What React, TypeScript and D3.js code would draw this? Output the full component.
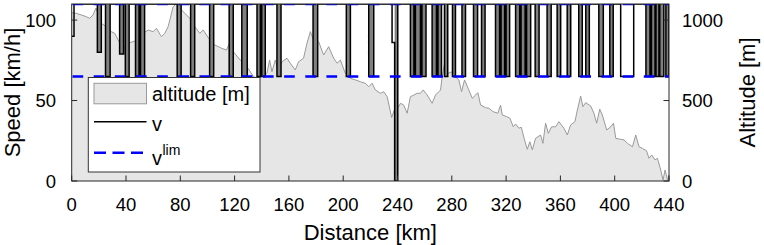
import React from "react";
import * as d3 from "d3";

// ---- data ----
const distanceTicks = [0, 40, 80, 120, 160, 200, 240, 280, 320, 360, 400, 440];
const speedTicks = [0, 50, 100];
const altitudeTicks = [0, 500, 1000];

// altitude profile: [km, m]
const altitudeProfile: [number, number][] = [
  [0, 1046], [3.4, 1042], [7.1, 1032], [10.8, 1021], [13.3, 1011], [15.7, 1032], [17.9, 1075],
  [21.8, 980], [25.5, 959], [29.2, 928], [31.7, 918], [34.2, 876], [36.6, 845], [39.1, 835],
  [41.5, 856], [45.2, 866], [48.9, 876], [52.6, 918], [56.3, 938], [60.0, 928], [62.4, 949],
  [66.1, 897], [68.6, 918], [71.0, 959], [72.3, 1001], [74.7, 1083], [76.9, 1100], [79.7, 1073],
  [83.4, 1042], [87.0, 1011], [90.7, 959], [94.4, 918], [96.9, 938], [99.3, 907], [101.8, 876],
  [105.5, 845], [110.4, 825], [114.0, 814], [117.3, 876], [119.0, 804], [124.1, 752], [129.1, 710],
  [134.0, 648], [137.6, 638], [141.3, 653], [143.8, 669], [145.8, 752], [147.5, 679], [150.0, 752],
  [152.0, 690], [154.9, 741], [158.6, 763], [161.0, 732], [164.7, 690], [167.1, 741], [170.8, 763],
  [173.3, 856], [175.8, 928], [178.2, 876], [181.9, 866], [185.6, 783], [189.3, 835], [193.0, 763],
  [195.5, 732], [197.9, 752], [201.6, 669], [205.3, 638], [209.0, 628], [212.7, 617], [216.3, 607],
  [218.8, 586], [221.3, 607], [223.7, 566], [227.4, 545], [229.8, 555], [232.4, 524], [235.7, 395],
  [238.5, 462], [240.9, 462], [242.2, 483], [244.6, 472], [247.1, 421], [249.5, 524], [252.0, 534],
  [254.5, 545], [256.9, 545], [258.9, 566], [261.9, 534], [265.5, 483], [268.0, 534], [270.4, 555],
  [271.7, 566], [272.9, 648], [274.6, 727], [277.1, 669], [280.3, 679], [282.7, 648], [285.2, 628],
  [287.2, 555], [289.4, 628], [292.5, 566], [295.1, 514], [297.5, 534], [299.2, 549], [301.2, 472],
  [304.9, 456], [307.3, 452], [310.5, 431], [313.9, 421], [315.9, 472], [317.2, 410], [320.4, 400],
  [322.8, 390], [325.3, 337], [327.0, 354], [329.4, 328], [331.2, 334], [333.6, 255], [335.6, 197],
  [337.5, 244], [339.3, 193], [341.7, 265], [345.4, 286], [347.1, 234], [349.1, 359], [351.1, 296],
  [353.5, 337], [356.5, 337], [358.9, 369], [362.6, 328], [365.1, 286], [367.5, 348], [370.7, 369],
  [372.5, 441], [374.9, 528], [376.6, 462], [378.6, 487], [382.3, 466], [384.7, 421], [386.7, 359],
  [389.0, 446], [390.9, 410], [394.1, 317], [397.1, 337], [399.1, 359], [400.8, 265], [404.4, 259],
  [406.9, 255], [409.4, 234], [413.1, 213], [415.5, 286], [417.9, 213], [420.4, 203], [423.4, 188],
  [425.3, 141], [427.3, 162], [429.7, 131], [431.5, 141], [433.9, 68], [435.6, 6], [437.1, 68],
  [438.9, 6], [440, 37],
];

// speed v: 110 km/h except in these intervals [fromKm, toKm, speed, rapidSwitching]
const speedDips: [number, number, number, boolean][] = [
  [0, 1.7, 90, false],
  [18.9, 21.8, 80, true], [24.9, 28.3, 65, true], [35.3, 38.2, 79, true], [39.5, 42.3, 65, true],
  [47.0, 49.6, 65, true], [50.7, 53.7, 65, true], [77.7, 80.6, 65, true], [87.6, 90.6, 65, true],
  [101.6, 104.6, 65, true], [116.0, 119.0, 65, true], [125.3, 129.3, 65, true],
  [136.5, 139.0, 65, true], [140.0, 142.6, 65, true], [151.2, 154.2, 65, true],
  [177.8, 181.2, 65, true], [202.3, 205.3, 65, true], [218.8, 222.5, 65, true],
  [236.0, 237.9, 86, false], [237.9, 240.2, 0, true],
  [249.5, 252.1, 65, true], [253.2, 256.9, 65, true], [258.0, 261.0, 65, true],
  [265.5, 268.7, 65, true], [269.8, 272.4, 65, true], [274.6, 277.0, 65, true],
  [280.5, 282.7, 65, true], [287.5, 290.1, 65, true], [296.0, 299.0, 65, true],
  [301.9, 304.5, 65, true], [312.2, 315.2, 65, true], [316.3, 318.9, 65, true],
  [320.0, 322.6, 65, true], [327.0, 330.0, 65, true], [331.0, 334.0, 65, true],
  [335.1, 338.1, 65, true], [341.4, 344.3, 65, true], [350.2, 353.2, 65, true],
  [357.6, 360.2, 65, true], [365.0, 367.6, 65, true], [373.5, 376.1, 65, true],
  [378.7, 381.3, 65, true], [388.3, 391.6, 65, true], [396.4, 398.9, 65, true],
  [404.4, 414.0, 65, false], [423.0, 426.0, 65, true], [427.1, 429.7, 65, true],
  [430.4, 432.6, 65, true], [433.2, 436.2, 65, true], [437.7, 440, 65, true],
];

const vMax = 110;
const vLimLevels = [110, 65];

// ---- layout ----
const W = 764;
const H = 245;
const left = 71.7;
const right = 669;
const top = 4;
const bottom = 181;
const FONT = "'Liberation Sans', Arial, Helvetica, sans-serif";

export default function App() {
  const x = d3.scaleLinear().domain([0, 440]).range([left, right]);
  const yL = d3.scaleLinear().domain([0, 110]).range([bottom, top]);
  const yR = d3.scaleLinear().domain([0, 1100]).range([bottom, top]);

  const area = d3
    .area<[number, number]>()
    .x((d) => x(d[0]))
    .y0(yR(0))
    .y1((d) => yR(d[1]));
  const altLine = d3
    .line<[number, number]>()
    .x((d) => x(d[0]))
    .y((d) => yR(d[1]));

  const pts: [number, number][] = [];
  if (speedDips[0][0] > 0) pts.push([0, vMax]);
  speedDips.forEach((p, i) => {
    pts.push([p[0], p[2]]);
    const next = speedDips[i + 1];
    if (!next || next[0] > p[1]) pts.push([p[1], vMax]);
  });
  pts.push([440, vMax]);
  const vLine = d3
    .line<[number, number]>()
    .x((d) => x(d[0]))
    .y((d) => yL(d[1]))
    .curve(d3.curveStepAfter);

  const axisColor = "#262626";
  const tickFont = 18.5;

  return (
    <svg
      width={W}
      height={H}
      style={{ position: "absolute", left: 0, top: 0, background: "#fff" }}
      fontFamily={FONT}
    >
      <defs>
        <clipPath id="plot">
          <rect x={left} y={top} width={right - left} height={bottom - top} />
        </clipPath>
      </defs>
      <rect x={0} y={0} width={W} height={H} fill="#fff" />
      <g clipPath="url(#plot)">
        <path d={area(altitudeProfile) || ""} fill="#e6e6e6" stroke="none" />
        <path d={altLine(altitudeProfile) || ""} fill="none" stroke="#999" strokeWidth={1} />
        {speedDips
          .filter((p) => p[3])
          .map((p, i) => (
            <rect
              key={i}
              x={x(p[0])}
              y={yL(vMax)}
              width={x(p[1]) - x(p[0])}
              height={yL(p[2]) - yL(vMax)}
              fill="#808080"
            />
          ))}
        <path d={vLine(pts) || ""} fill="none" stroke="#000" strokeWidth={1.5} />
        {vLimLevels.map((v) => (
          <line
            key={v}
            x1={left}
            x2={right}
            y1={yL(v)}
            y2={yL(v)}
            stroke="#0000ff"
            strokeWidth={2.5}
            strokeDasharray="10.7 10.46"
            strokeDashoffset={-0.8}
          />
        ))}
      </g>
      {/* axes box */}
      <rect x={left} y={top} width={right - left} height={bottom - top} fill="none" stroke={axisColor} strokeWidth={1} />
      {distanceTicks.map((t) => (
        <g key={t}>
          <line x1={x(t)} x2={x(t)} y1={bottom} y2={bottom - 5.5} stroke={axisColor} />
          <text x={x(t)} y={211} textAnchor="middle" fontSize={tickFont} fill="#000">
            {t}
          </text>
        </g>
      ))}
      {speedTicks.map((t) => (
        <g key={t}>
          <line x1={left} x2={left + 5.5} y1={yL(t)} y2={yL(t)} stroke={axisColor} />
          <text x={56} y={yL(t) + 6.5} textAnchor="end" fontSize={tickFont} fill="#000">
            {t}
          </text>
        </g>
      ))}
      {altitudeTicks.map((t) => (
        <g key={t}>
          <line x1={right} x2={right - 5.5} y1={yR(t)} y2={yR(t)} stroke={axisColor} />
          <text x={682} y={yR(t) + 6.5} textAnchor="start" fontSize={tickFont} fill="#000">
            {t}
          </text>
        </g>
      ))}
      <text x={(left + right) / 2} y={240} textAnchor="middle" fontSize={22} fill="#000">
        Distance [km]
      </text>
      <text transform={`translate(20, ${(top + bottom) / 2}) rotate(-90)`} textAnchor="middle" fontSize={22} fill="#000">
        Speed [km/h]
      </text>
      <text transform={`translate(755, ${(top + bottom) / 2}) rotate(-90)`} textAnchor="middle" fontSize={22} fill="#000">
        Altitude [m]
      </text>
      {/* legend */}
      <g>
        <rect x={88.3} y={77.5} width={171.7} height={94.5} fill="#fff" stroke="#333" strokeWidth={1} />
        <rect x={94} y={83.3} width={52.5} height={20.5} fill="#e6e6e6" stroke="#999" strokeWidth={1} />
        <text x={152} y={101} fontSize={20} fill="#000">altitude [m]</text>
        <line x1={94} x2={146.5} y1={121.7} y2={121.7} stroke="#000" strokeWidth={1.5} />
        <text x={152} y={130.5} fontSize={20} fill="#000">v</text>
        <line x1={94} x2={146.5} y1={152.7} y2={152.7} stroke="#0000ff" strokeWidth={2.5} strokeDasharray="12 6.5" />
        <text x={152} y={164.5} fontSize={20} fill="#000">
          v
          <tspan dx={0.5} dy={-10} fontSize={14}>lim</tspan>
        </text>
      </g>
    </svg>
  );
}
